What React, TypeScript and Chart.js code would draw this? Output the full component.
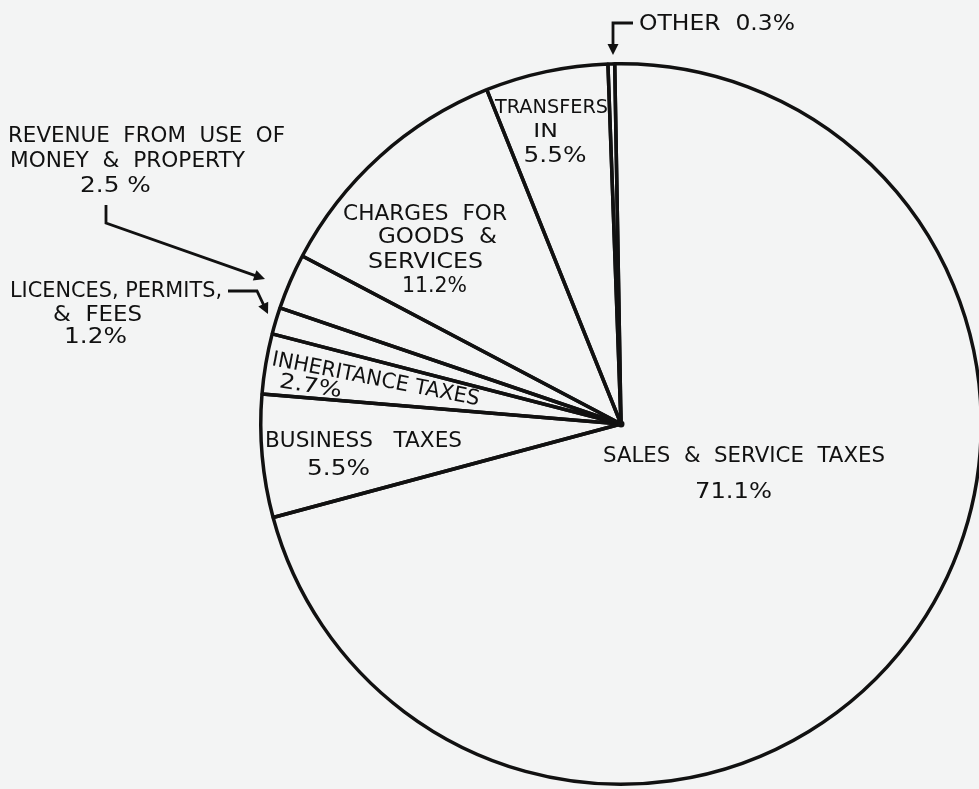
import React, { useEffect, useRef } from "react";
import { Chart, registerables } from "chart.js";

Chart.register(...registerables);

// ---- data ----
const categories = [
  "SALES & SERVICE TAXES",
  "BUSINESS TAXES",
  "INHERITANCE TAXES",
  "LICENCES, PERMITS, & FEES",
  "REVENUE FROM USE OF MONEY & PROPERTY",
  "CHARGES FOR GOODS & SERVICES",
  "TRANSFERS IN",
  "OTHER",
];
const shares = [71.1, 5.5, 2.7, 1.2, 2.5, 11.2, 5.5, 0.3];
const shareLabels = ["71.1%", "5.5%", "2.7%", "1.2%", "2.5 %", "11.2%", "5.5%", "0.3%"];

// ---- label layout (annotation placement only) ----
type Line = { t: string; x: number; y: number; w: number; s: number; r?: number };
const labelLines: Line[] = [
  { t: "SALES  &  SERVICE  TAXES", x: 603, y: 462, w: 282, s: 22 },
  { t: shareLabels[0], x: 695, y: 498, w: 77, s: 22 },
  { t: "BUSINESS   TAXES", x: 265, y: 447, w: 197, s: 21 },
  { t: shareLabels[1], x: 302, y: 475, w: 73, s: 21 },
  { t: "INHERITANCE TAXES", x: 271, y: 365, w: 211, s: 21, r: 11 },
  { t: shareLabels[2], x: 277, y: 387, w: 66, s: 21, r: 9 },
  { t: "LICENCES, PERMITS,", x: 10, y: 297, w: 212, s: 21 },
  { t: "&  FEES", x: 53, y: 321, w: 89, s: 21 },
  { t: shareLabels[3], x: 58, y: 343, w: 75, s: 21 },
  { t: "REVENUE  FROM  USE  OF", x: 8, y: 142, w: 277, s: 21 },
  { t: "MONEY  &  PROPERTY", x: 10, y: 167, w: 235, s: 21 },
  { t: shareLabels[4], x: 78, y: 192, w: 75, s: 21 },
  { t: "CHARGES  FOR", x: 343, y: 220, w: 164, s: 21 },
  { t: "GOODS  &", x: 378, y: 243, w: 119, s: 21 },
  { t: "SERVICES", x: 368, y: 268, w: 115, s: 21 },
  { t: shareLabels[5], x: 402, y: 292, w: 65, s: 21 },
  { t: "TRANSFERS", x: 495, y: 113, w: 113, s: 20 },
  { t: "IN", x: 533, y: 137, w: 25, s: 20 },
  { t: shareLabels[6], x: 523, y: 162, w: 64, s: 21 },
  { t: "OTHER  0.3%", x: 639, y: 30, w: 156, s: 21 },
];

const arrows: number[][][] = [
  [[106, 205], [106, 223], [265, 279]],
  [[228, 291], [257, 291], [268, 314]],
  [[633, 23], [613, 23], [613, 55]],
];

const BG = "#f3f4f4";
const INK = "#111111";

function fitText(ctx: CanvasRenderingContext2D, text: string, w: number, size: number) {
  ctx.font = `${size}px "DejaVu Sans", sans-serif`;
  const base = ctx.measureText(text).width;
  let sx = base > 0 ? w / base : 1;
  sx = Math.max(0.8, Math.min(1.18, sx));
  const off = (w - base * sx) / 2;
  ctx.save();
  ctx.translate(off, 0);
  ctx.scale(sx, 1);
  ctx.fillText(text, 0, 0);
  ctx.restore();
}

function drawArrow(ctx: CanvasRenderingContext2D, pts: number[][]) {
  const n = pts.length;
  const [tx, ty] = pts[n - 1];
  const [px, py] = pts[n - 2];
  const dx = tx - px, dy = ty - py;
  const len = Math.hypot(dx, dy);
  const ux = dx / len, uy = dy / len;
  const head = 11, half = 5.5;
  ctx.beginPath();
  ctx.moveTo(pts[0][0], pts[0][1]);
  for (let i = 1; i < n - 1; i++) ctx.lineTo(pts[i][0], pts[i][1]);
  ctx.lineTo(tx - ux * head * 0.8, ty - uy * head * 0.8);
  ctx.stroke();
  ctx.beginPath();
  ctx.moveTo(tx, ty);
  ctx.lineTo(tx - ux * head - uy * half, ty - uy * head + ux * half);
  ctx.lineTo(tx - ux * head + uy * half, ty - uy * head - ux * half);
  ctx.closePath();
  ctx.fill();
}

const annotationPlugin = {
  id: "annotations",
  beforeDraw(chart: any) {
    const ctx = chart.ctx as CanvasRenderingContext2D;
    ctx.save();
    ctx.fillStyle = BG;
    ctx.fillRect(0, 0, chart.width, chart.height);
    ctx.restore();
  },
  afterDraw(chart: any) {
    const ctx = chart.ctx as CanvasRenderingContext2D;
    ctx.save();
    ctx.fillStyle = INK;
    ctx.strokeStyle = INK;
    ctx.textBaseline = "alphabetic";
    ctx.textAlign = "left";
    for (const l of labelLines) {
      ctx.save();
      ctx.translate(l.x, l.y);
      if (l.r) ctx.rotate((l.r * Math.PI) / 180);
      fitText(ctx, l.t, l.w, l.s);
      ctx.restore();
    }
    ctx.lineWidth = 2.8;
    ctx.lineJoin = "miter";
    for (const a of arrows) drawArrow(ctx, a);
    const arc = chart.getDatasetMeta(0).data[0];
    if (arc) {
      ctx.beginPath();
      ctx.arc(arc.x, arc.y, 3.5, 0, Math.PI * 2);
      ctx.fill();
    }
    ctx.restore();
  },
};

export default function App() {
  const ref = useRef<HTMLCanvasElement | null>(null);
  useEffect(() => {
    if (!ref.current) return;
    const chart = new Chart(ref.current, {
      type: "pie",
      data: {
        labels: categories,
        datasets: [
          {
            data: shares,
            backgroundColor: "rgba(0,0,0,0)",
            borderColor: INK,
            borderWidth: 3.5,
            hoverOffset: 0,
          },
        ],
      },
      options: {
        responsive: false,
        animation: false,
        rotation: -1,
        layout: { padding: { left: 259, right: 17, top: 62, bottom: 3 } },
        plugins: {
          legend: { display: false },
          tooltip: { enabled: false },
        },
        events: [],
      },
      plugins: [annotationPlugin],
    });
    return () => chart.destroy();
  }, []);
  return (
    <div style={{ position: "fixed", left: 0, top: 0, width: 1000, height: 789, overflow: "hidden", background: BG }}>
      <canvas ref={ref} width={1000} height={789} style={{ width: 1000, height: 789, display: "block" }} />
    </div>
  );
}
